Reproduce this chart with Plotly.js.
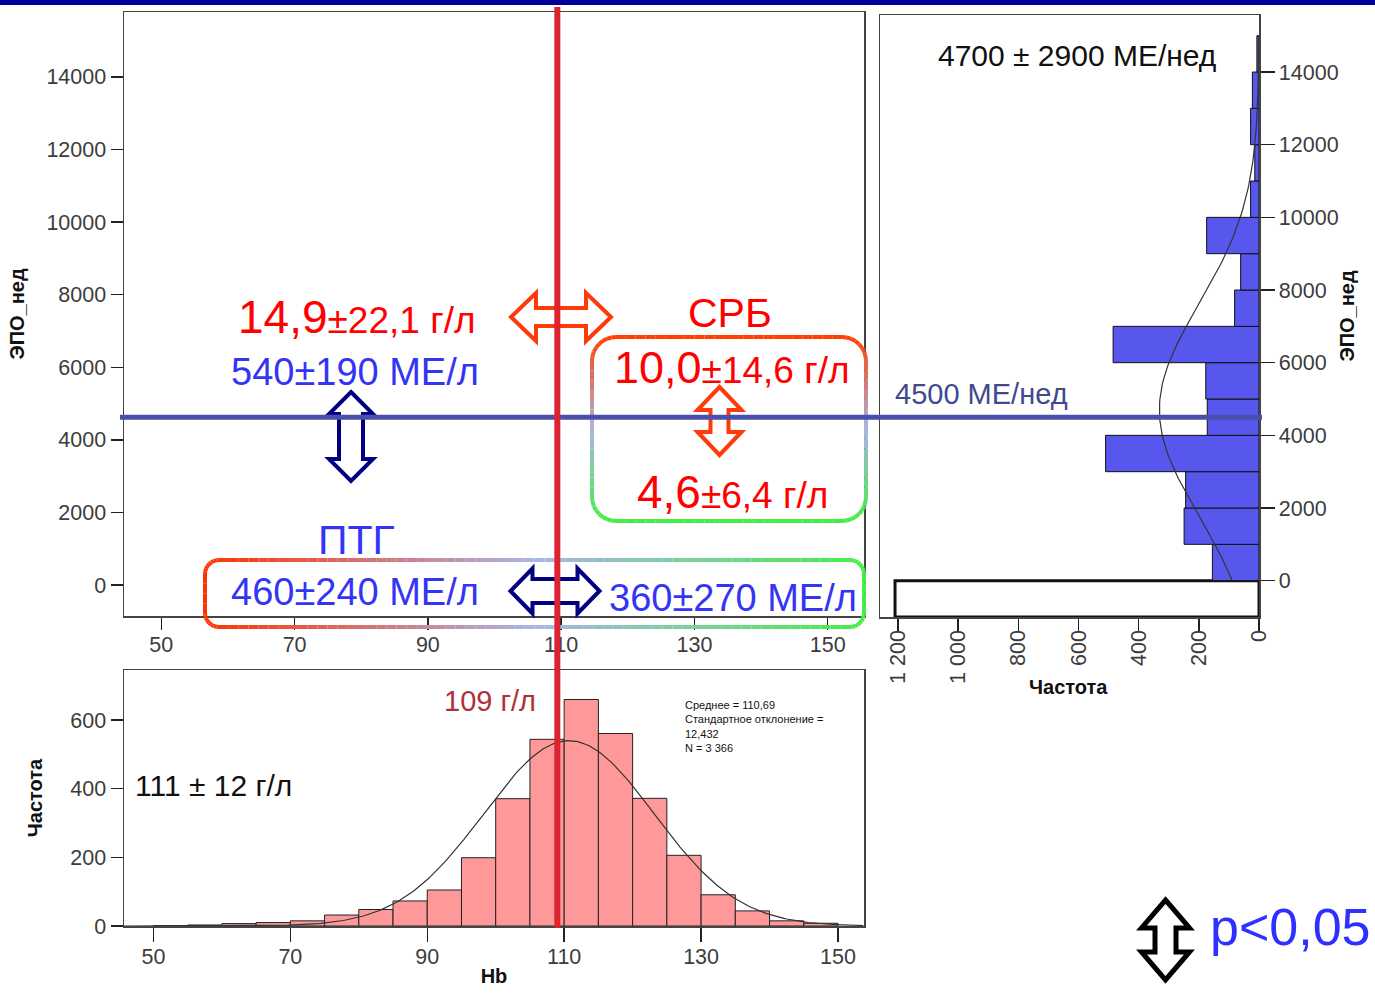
<!DOCTYPE html>
<html>
<head>
<meta charset="utf-8">
<script src="https://cdn.plot.ly/plotly-3.0.1.min.js"></script>
<style>html,body{margin:0;padding:0;background:#fff;}#chart{width:1375px;height:1001px;}</style>
</head>
<body>
<div id="chart"></div>
<script>
// Hb histogram, bin width 5 g/l
const hbBinStart = [50,55,60,65,70,75,80,85,90,95,100,105,110,115,120,125,130,135,140,145];
const hbCounts   = [1,3,7,10,15,32,48,73,105,199,371,544,660,561,372,206,91,44,15,8];
const hbBinWidth = 5;
const hbMean = 110.69, hbSd = 12.432, hbN = 3366;

// ЭПО_нед histogram, bin width 1000 МЕ/нед (first bin holds the zero doses)
const epoBinStart = [-1000,0,1000,2000,3000,4000,5000,6000,7000,8000,9000,10000,11000,12000,13000,14000];
const epoCounts   = [1210,155,249,244,510,172,177,485,81,61,174,28,14,28,22,7];
const epoBinWidth = 1000;
const epoMean = 4700, epoSd = 2900;

// cut-off lines
const hbCut = 109;
const epoCut = 4500;

// tick labels
const mainXTicks = [50,70,90,110,130,150];
const epoTicks = [0,2000,4000,6000,8000,10000,12000,14000];
const epoTickText = ['0','2000','4000','6000','8000','10000','12000','14000'];
const hbFreqTicks = [0,200,400,600];
const epoFreqTicks = [0,200,400,600,800,1000,1200];
const epoFreqText = ['0','200','400','600','800','1 000','1 200'];

const W = 1375, H = 1001;
const FONT = 'Liberation Sans, Arial, sans-serif';
const px = p => p / W;
const py = p => 1 - p / H;

// fitted normal curves
function normalCurve(lo, hi, step, mean, sd, n, bw) {
  const xs = [], ys = [];
  for (let v = lo; v <= hi + 1e-9; v += step) {
    xs.push(v);
    ys.push(n * bw / (sd * Math.sqrt(2 * Math.PI)) * Math.exp(-0.5 * Math.pow((v - mean) / sd, 2)));
  }
  return [xs, ys];
}
const [hbCurveX, hbCurveY] = normalCurve(45.7, 153.8, 0.4, hbMean, hbSd, hbN, hbBinWidth);
const epoPositiveN = epoCounts.reduce((s, c, i) => s + (epoBinStart[i] >= 0 ? c : 0), 0);
const [epoCurveV, epoCurveF] = normalCurve(0, 15000, 100, epoMean, epoSd, epoPositiveN, epoBinWidth);

const traces = [
  { type: 'scatter', x: [], y: [], xaxis: 'x', yaxis: 'y', hoverinfo: 'skip' },
  {
    type: 'bar', x: hbBinStart.map(s => s + hbBinWidth / 2), y: hbCounts, width: hbBinWidth,
    xaxis: 'x2', yaxis: 'y2',
    marker: { color: '#FF9999', line: { color: '#222', width: 1 } }
  },
  {
    type: 'scatter', mode: 'lines', x: hbCurveX, y: hbCurveY, xaxis: 'x2', yaxis: 'y2',
    line: { color: '#333', width: 1.2 }, hoverinfo: 'skip'
  },
  {
    type: 'bar', orientation: 'h', y: epoBinStart.map(s => s + epoBinWidth / 2), x: epoCounts, width: epoBinWidth,
    xaxis: 'x3', yaxis: 'y3', cliponaxis: false,
    marker: {
      color: epoBinStart.map(s => s < 0 ? '#FFFFFF' : '#5757EE'),
      line: { color: '#111', width: epoBinStart.map(s => s < 0 ? 3 : 1) }
    }
  },
  {
    type: 'scatter', mode: 'lines', x: epoCurveF, y: epoCurveV, xaxis: 'x3', yaxis: 'y3',
    line: { color: '#333', width: 1.2 }, hoverinfo: 'skip'
  }
];

const tickFont = { family: FONT, size: 21.5, color: '#3c3c3c' };
const titleFont = { family: FONT, size: 20, color: '#111' };
const axisBase = {
  ticks: 'outside', ticklen: 12, tickwidth: 1.5, tickcolor: '#222',
  showline: true, mirror: true, linecolor: '#444', linewidth: 1.5,
  zeroline: false, showgrid: false, tickfont: tickFont, fixedrange: true, automargin: false
};

// gradient-stroked rounded rectangles built from short coloured segments
function hex2rgb(h) { return [1, 3, 5].map(i => parseInt(h.slice(i, i + 2), 16)); }
function gradColor(stops, t) {
  t = Math.max(0, Math.min(1, t));
  for (let i = 0; i < stops.length - 1; i++) {
    const [t0, c0] = stops[i], [t1, c1] = stops[i + 1];
    if (t <= t1) {
      const u = (t - t0) / (t1 - t0), a = hex2rgb(c0), b = hex2rgb(c1);
      return 'rgb(' + a.map((v, k) => Math.round(v + (b[k] - v) * u)).join(',') + ')';
    }
  }
  return stops[stops.length - 1][1];
}
function roundRectPoints(x0, y0, x1, y1, r) {
  const pts = [];
  const line = (ax, ay, bx, by) => {
    const n = Math.max(1, Math.ceil(Math.hypot(bx - ax, by - ay) / 10));
    for (let i = 0; i < n; i++) pts.push([ax + (bx - ax) * i / n, ay + (by - ay) * i / n]);
  };
  const arc = (cx, cy, a0, a1) => {
    for (let i = 0; i < 8; i++) { const a = a0 + (a1 - a0) * i / 8; pts.push([cx + r * Math.cos(a), cy + r * Math.sin(a)]); }
  };
  line(x0 + r, y0, x1 - r, y0); arc(x1 - r, y0 + r, -Math.PI / 2, 0);
  line(x1, y0 + r, x1, y1 - r); arc(x1 - r, y1 - r, 0, Math.PI / 2);
  line(x1 - r, y1, x0 + r, y1); arc(x0 + r, y1 - r, Math.PI / 2, Math.PI);
  line(x0, y1 - r, x0, y0 + r); arc(x0 + r, y0 + r, Math.PI, 1.5 * Math.PI);
  pts.push(pts[0]);
  return pts;
}
function gradientBox(x0, y0, x1, y1, r, stops, dir, width) {
  const pts = roundRectPoints(x0, y0, x1, y1, r), out = [];
  for (let i = 0; i < pts.length - 1; i++) {
    const [ax, ay] = pts[i], [bx, by] = pts[i + 1];
    const t = dir === 'h' ? ((ax + bx) / 2 - x0) / (x1 - x0) : ((ay + by) / 2 - y0) / (y1 - y0);
    out.push({ type: 'line', xref: 'paper', yref: 'paper', x0: px(ax), y0: py(ay), x1: px(bx), y1: py(by),
      line: { color: gradColor(stops, t), width: width } });
  }
  return out;
}

// outlined double-headed arrows
function doubleArrow(cx, cy, len, wid, head, shaft, vertical, color, lw) {
  const a = len / 2;
  let p = [[0, -a], [wid / 2, -a + head], [shaft / 2, -a + head], [shaft / 2, a - head], [wid / 2, a - head],
           [0, a], [-wid / 2, a - head], [-shaft / 2, a - head], [-shaft / 2, -a + head], [-wid / 2, -a + head]];
  if (!vertical) p = p.map(([u, v]) => [v, u]);
  const path = 'M ' + p.map(([u, v]) => px(cx + u).toFixed(5) + ',' + py(cy + v).toFixed(5)).join(' L ') + ' Z';
  return { type: 'path', xref: 'paper', yref: 'paper', path: path, fillcolor: '#FFFFFF',
    line: { color: color, width: lw } };
}

const warmStops = [[0, '#FF3300'], [0.5, '#A9B5E8'], [1, '#44EE44']];
const shapes = [
  { type: 'rect', xref: 'paper', yref: 'paper', x0: 0, x1: 1, y0: py(5), y1: 1, fillcolor: '#000099', line: { width: 0 } },
  ...gradientBox(205, 560, 864, 627, 14, warmStops, 'h', 4),
  ...gradientBox(592, 337, 866, 521, 24, [[0, '#FF4000'], [0.5, '#A9B5E8'], [1, '#44EE44']], 'v', 4),
  doubleArrow(561, 317, 100, 48, 25, 18, false, '#FF3A0A', 4),
  doubleArrow(351, 436.5, 89, 44, 22, 24, true, '#000080', 4),
  doubleArrow(555, 591, 89, 45, 22, 24, false, '#000080', 4),
  doubleArrow(719.5, 421, 68, 44, 23, 18, true, '#FF3A0A', 4),
  doubleArrow(1165.5, 940, 80, 48, 28, 21, true, '#000000', 5),
  { type: 'line', xref: 'paper', yref: 'y3', x0: px(120), x1: px(1262), y0: epoCut, y1: epoCut,
    line: { color: '#4A4FAE', width: 5 } },
  { type: 'line', xref: 'x2', yref: 'paper', x0: hbCut, x1: hbCut, y0: py(928), y1: py(7),
    line: { color: '#DC2430', width: 6 } }
];

function note(text, x, y, size, color, anchor) {
  return { xref: 'paper', yref: 'paper', x: px(x), y: py(y), text: text, showarrow: false,
    xanchor: anchor || 'center', yanchor: 'middle', font: { family: FONT, size: size, color: color } };
}
const RED = '#FF0000', BLUE = '#3434F4';
const annotations = [
  note('<span style="font-size:46px">14,9</span>±22,1 г/л', 356.5, 317, 37, RED),
  note('540±190 МЕ/л', 355.5, 372, 38, BLUE),
  note('ПТГ', 357, 540, 41, BLUE),
  note('460±240 МЕ/л', 355.5, 592, 38, BLUE),
  note('360±270 МЕ/л', 733, 598, 38, BLUE),
  note('СРБ', 730.5, 313, 41, RED),
  note('<span style="font-size:45px">10,0</span>±14,6 г/л', 731.5, 367, 37, RED),
  note('<span style="font-size:46px">4,6</span>±6,4 г/л', 732.5, 492, 37, RED),
  note('4500 МЕ/нед', 893, 394, 29, '#414A8C', 'left'),
  note('4700 ± 2900 МЕ/нед', 936, 55, 30, '#111', 'left'),
  note('111 ± 12 г/л', 133, 785, 30, '#111', 'left'),
  note('109 г/л', 442, 701, 29, '#B0303A', 'left'),
  note('p<0,05', 1208, 927, 52, '#2F2FFF', 'left'),
  note('<b>Частота</b>', 1068, 687, 20, '#111'),
  Object.assign(note('Среднее = 110,69<br>Стандартное отклонение =<br>12,432<br>N = 3 366', 683, 697, 11, '#111', 'left'),
    { yanchor: 'top', align: 'left' })
];

const layout = {
  width: W, height: H, margin: { l: 0, r: 0, t: 0, b: 0 },
  paper_bgcolor: '#FFFFFF', plot_bgcolor: '#FFFFFF', showlegend: false, bargap: 0,
  font: { family: FONT, size: 22, color: '#333' },
  xaxis: Object.assign({}, axisBase, {
    domain: [px(124), px(864)], range: [44.4, 155.45], tickvals: mainXTicks, anchor: 'y',
    ticklabelstandoff: -3
  }),
  yaxis: Object.assign({}, axisBase, {
    domain: [py(616), py(12)], range: [-855, 15790], tickvals: epoTicks, ticktext: epoTickText, anchor: 'x',
    title: { text: '<b>ЭПО_нед</b>', font: titleFont, standoff: 16 }
  }),
  xaxis2: Object.assign({}, axisBase, {
    domain: [px(124), px(864)], range: [45.7, 153.8], tickvals: mainXTicks, anchor: 'y2', ticklen: 14,
    ticklabelstandoff: -3,
    title: { text: '<b>Hb</b>', font: titleFont, standoff: 0 }
  }),
  yaxis2: Object.assign({}, axisBase, {
    domain: [py(926), py(670)], range: [0, 746], tickvals: hbFreqTicks, anchor: 'x2',
    title: { text: '<b>Частота</b>', font: titleFont, standoff: 22 }
  }),
  xaxis3: Object.assign({}, axisBase, {
    domain: [px(880), px(1259)], range: [1260, 0], tickvals: epoFreqTicks, ticktext: epoFreqText,
    tickangle: -90, anchor: 'y3', ticklabelstandoff: -9
  }),
  yaxis3: Object.assign({}, axisBase, {
    domain: [py(617), py(15)], range: [-1000, 15570], tickvals: epoTicks, ticktext: epoTickText,
    side: 'right', anchor: 'x3', ticklen: 14,
    title: { text: '<b>ЭПО_нед</b>', font: titleFont, standoff: 2 }
  }),
  shapes: shapes,
  annotations: annotations
};

Plotly.newPlot('chart', traces, layout, { displayModeBar: false, staticPlot: true });
</script>
</body>
</html>
